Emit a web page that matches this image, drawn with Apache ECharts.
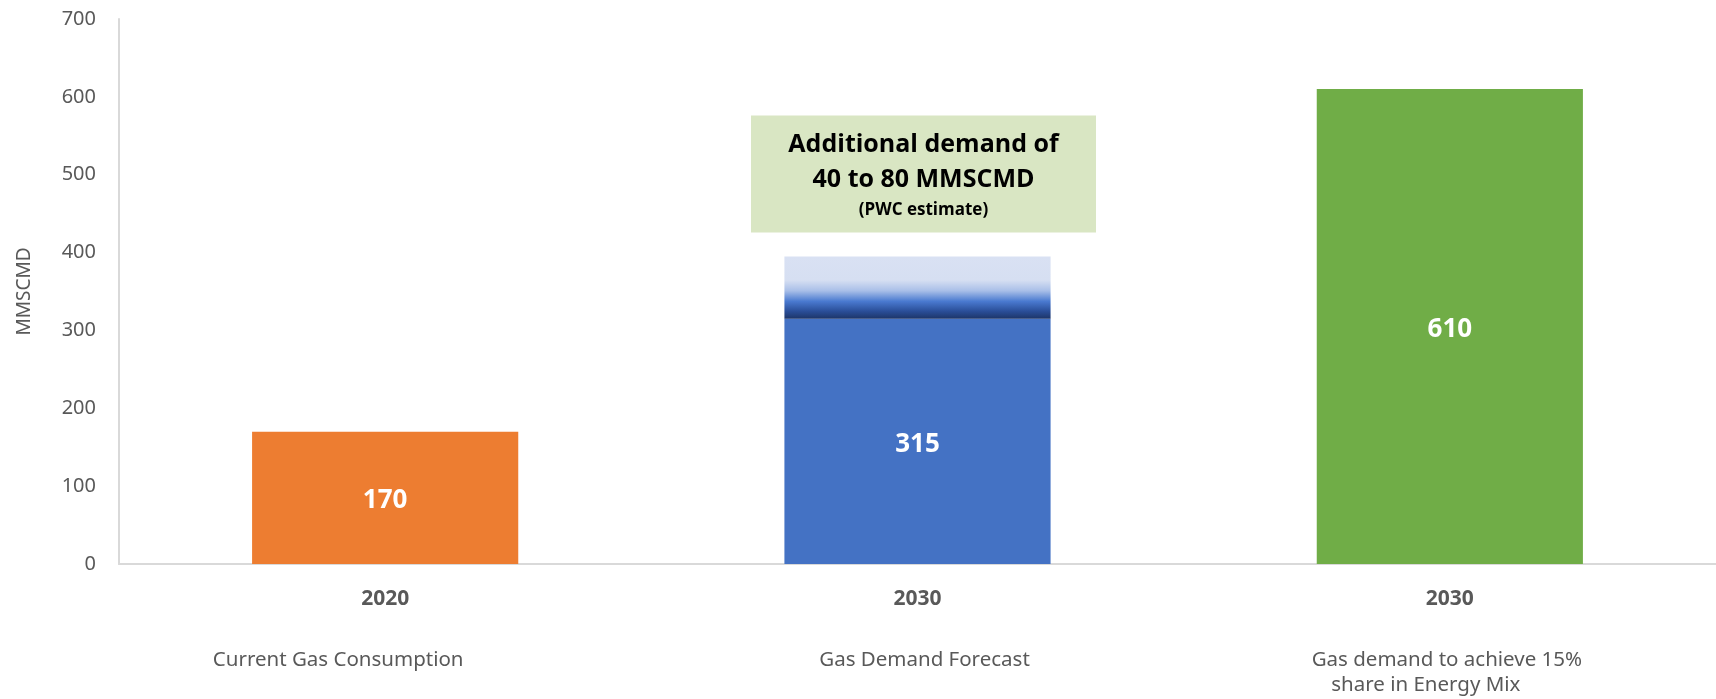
<!DOCTYPE html>
<html>
<head>
<meta charset="utf-8">
<title>Gas demand</title>
<script src="https://cdn.jsdelivr.net/npm/echarts@6/dist/echarts.min.js"></script>
<style>
  html, body { margin: 0; padding: 0; background: #ffffff; }
  #chart { width: 1716px; height: 699px; }
</style>
</head>
<body>
<div id="chart"></div>
<script>
// Category labels: year + description lines
const years = ['2020', '2030', '2030'];
const descriptions = [
  ['Current Gas Consumption'],
  ['Gas Demand Forecast'],
  ['Gas demand to achieve 15%', 'share in Energy Mix']
];
// Gas demand, MMSCMD
const demand = [170, 315, 610];
// Additional forecast demand range (upper bound) stacked on the forecast bar
const additional = ['-', 80, '-'];
const barColors = ['#ed7d31', '#4472c4', '#70ad47'];
const yTicks = { min: 0, max: 700, interval: 100 };
const noteLines = ['Additional demand of', '40 to 80 MMSCMD', '(PWC estimate)'];

const gray = '#595959';

// description text boxes sit slightly off the bar centres
const descStyle = (padLeft, padRight) => ({
  fontFamily: 'Noto Sans', fontSize: 20.5, color: gray, lineHeight: 25,
  padding: [0, padRight, 0, padLeft]
});
// rich style name per description line
const descKey = (idx, line) => 'd' + idx + '_' + line;

const chart = echarts.init(document.getElementById('chart'));

chart.setOption({
  backgroundColor: '#ffffff',
  animation: false,
  grid: { left: 119, right: 0, top: 19, bottom: 135 },
  xAxis: {
    type: 'category',
    data: years,
    axisLine: { show: true, lineStyle: { color: '#d9d9d9', width: 2 } },
    axisTick: { show: false },
    axisLabel: {
      margin: 18,
      interval: 0,
      formatter: function (value, idx) {
        const lines = ['{y|' + years[idx] + '}', '{s| }'];
        descriptions[idx].forEach((t, j) => lines.push('{' + descKey(idx, j) + '|' + t + '}'));
        return lines.join('\n');
      },
      rich: {
        y: { fontFamily: 'Open Sans', fontWeight: 'bold', fontSize: 21, color: gray, lineHeight: 34 },
        s: { fontSize: 10, lineHeight: 32 },
        d0_0: descStyle(0, 94),
        d1_0: descStyle(14, 0),
        d2_0: descStyle(0, 6),
        d2_1: descStyle(0, 48)
      }
    }
  },
  yAxis: {
    type: 'value',
    min: yTicks.min,
    max: yTicks.max,
    interval: yTicks.interval,
    name: 'MMSCMD',
    nameLocation: 'middle',
    nameGap: 85,
    nameRotate: 90,
    nameTextStyle: { fontFamily: 'Noto Sans', fontSize: 19, color: gray },
    axisLine: { show: true, lineStyle: { color: '#d9d9d9', width: 2 } },
    axisTick: { show: false },
    splitLine: { show: false },
    axisLabel: { margin: 23, fontFamily: 'Noto Sans', fontSize: 20, color: gray }
  },
  series: [
    {
      name: 'Demand',
      type: 'bar',
      stack: 'total',
      barWidth: '50%',
      data: demand.map((v, i) => ({ value: v, itemStyle: { color: barColors[i] } })),
      label: {
        show: true,
        position: 'inside',
        offset: [0, 3],
        color: '#ffffff',
        fontFamily: 'Open Sans',
        fontWeight: 'bold',
        fontSize: 26
      }
    },
    {
      name: 'Additional demand',
      type: 'bar',
      stack: 'total',
      barWidth: '50%',
      data: additional,
      itemStyle: {
        color: new echarts.graphic.LinearGradient(0, 0, 0, 1, [
          { offset: 0, color: '#d9e1f3' },
          { offset: 0.38, color: '#d6dff2' },
          { offset: 0.55, color: '#a9bfe8' },
          { offset: 0.72, color: '#4a7ad0' },
          { offset: 0.88, color: '#2a4e98' },
          { offset: 1, color: '#1d3568' }
        ])
      },
      label: {
        show: true,
        position: 'top',
        distance: 24,
        offset: [6, 0],
        width: 345,
        align: 'center',
        backgroundColor: '#d9e6c3',
        padding: [12, 0, 10, 0],
        formatter: function () {
          return '{a|' + noteLines[0] + '}\n{a|' + noteLines[1] + '}\n{b|' + noteLines[2] + '}';
        },
        rich: {
          a: { fontFamily: 'Open Sans', fontWeight: 'bold', fontSize: 25, color: '#000000', lineHeight: 35, align: 'center' },
          b: { fontFamily: 'Open Sans', fontWeight: 'bold', fontSize: 17, color: '#000000', lineHeight: 25, align: 'center' }
        }
      }
    }
  ]
});
</script>
</body>
</html>
